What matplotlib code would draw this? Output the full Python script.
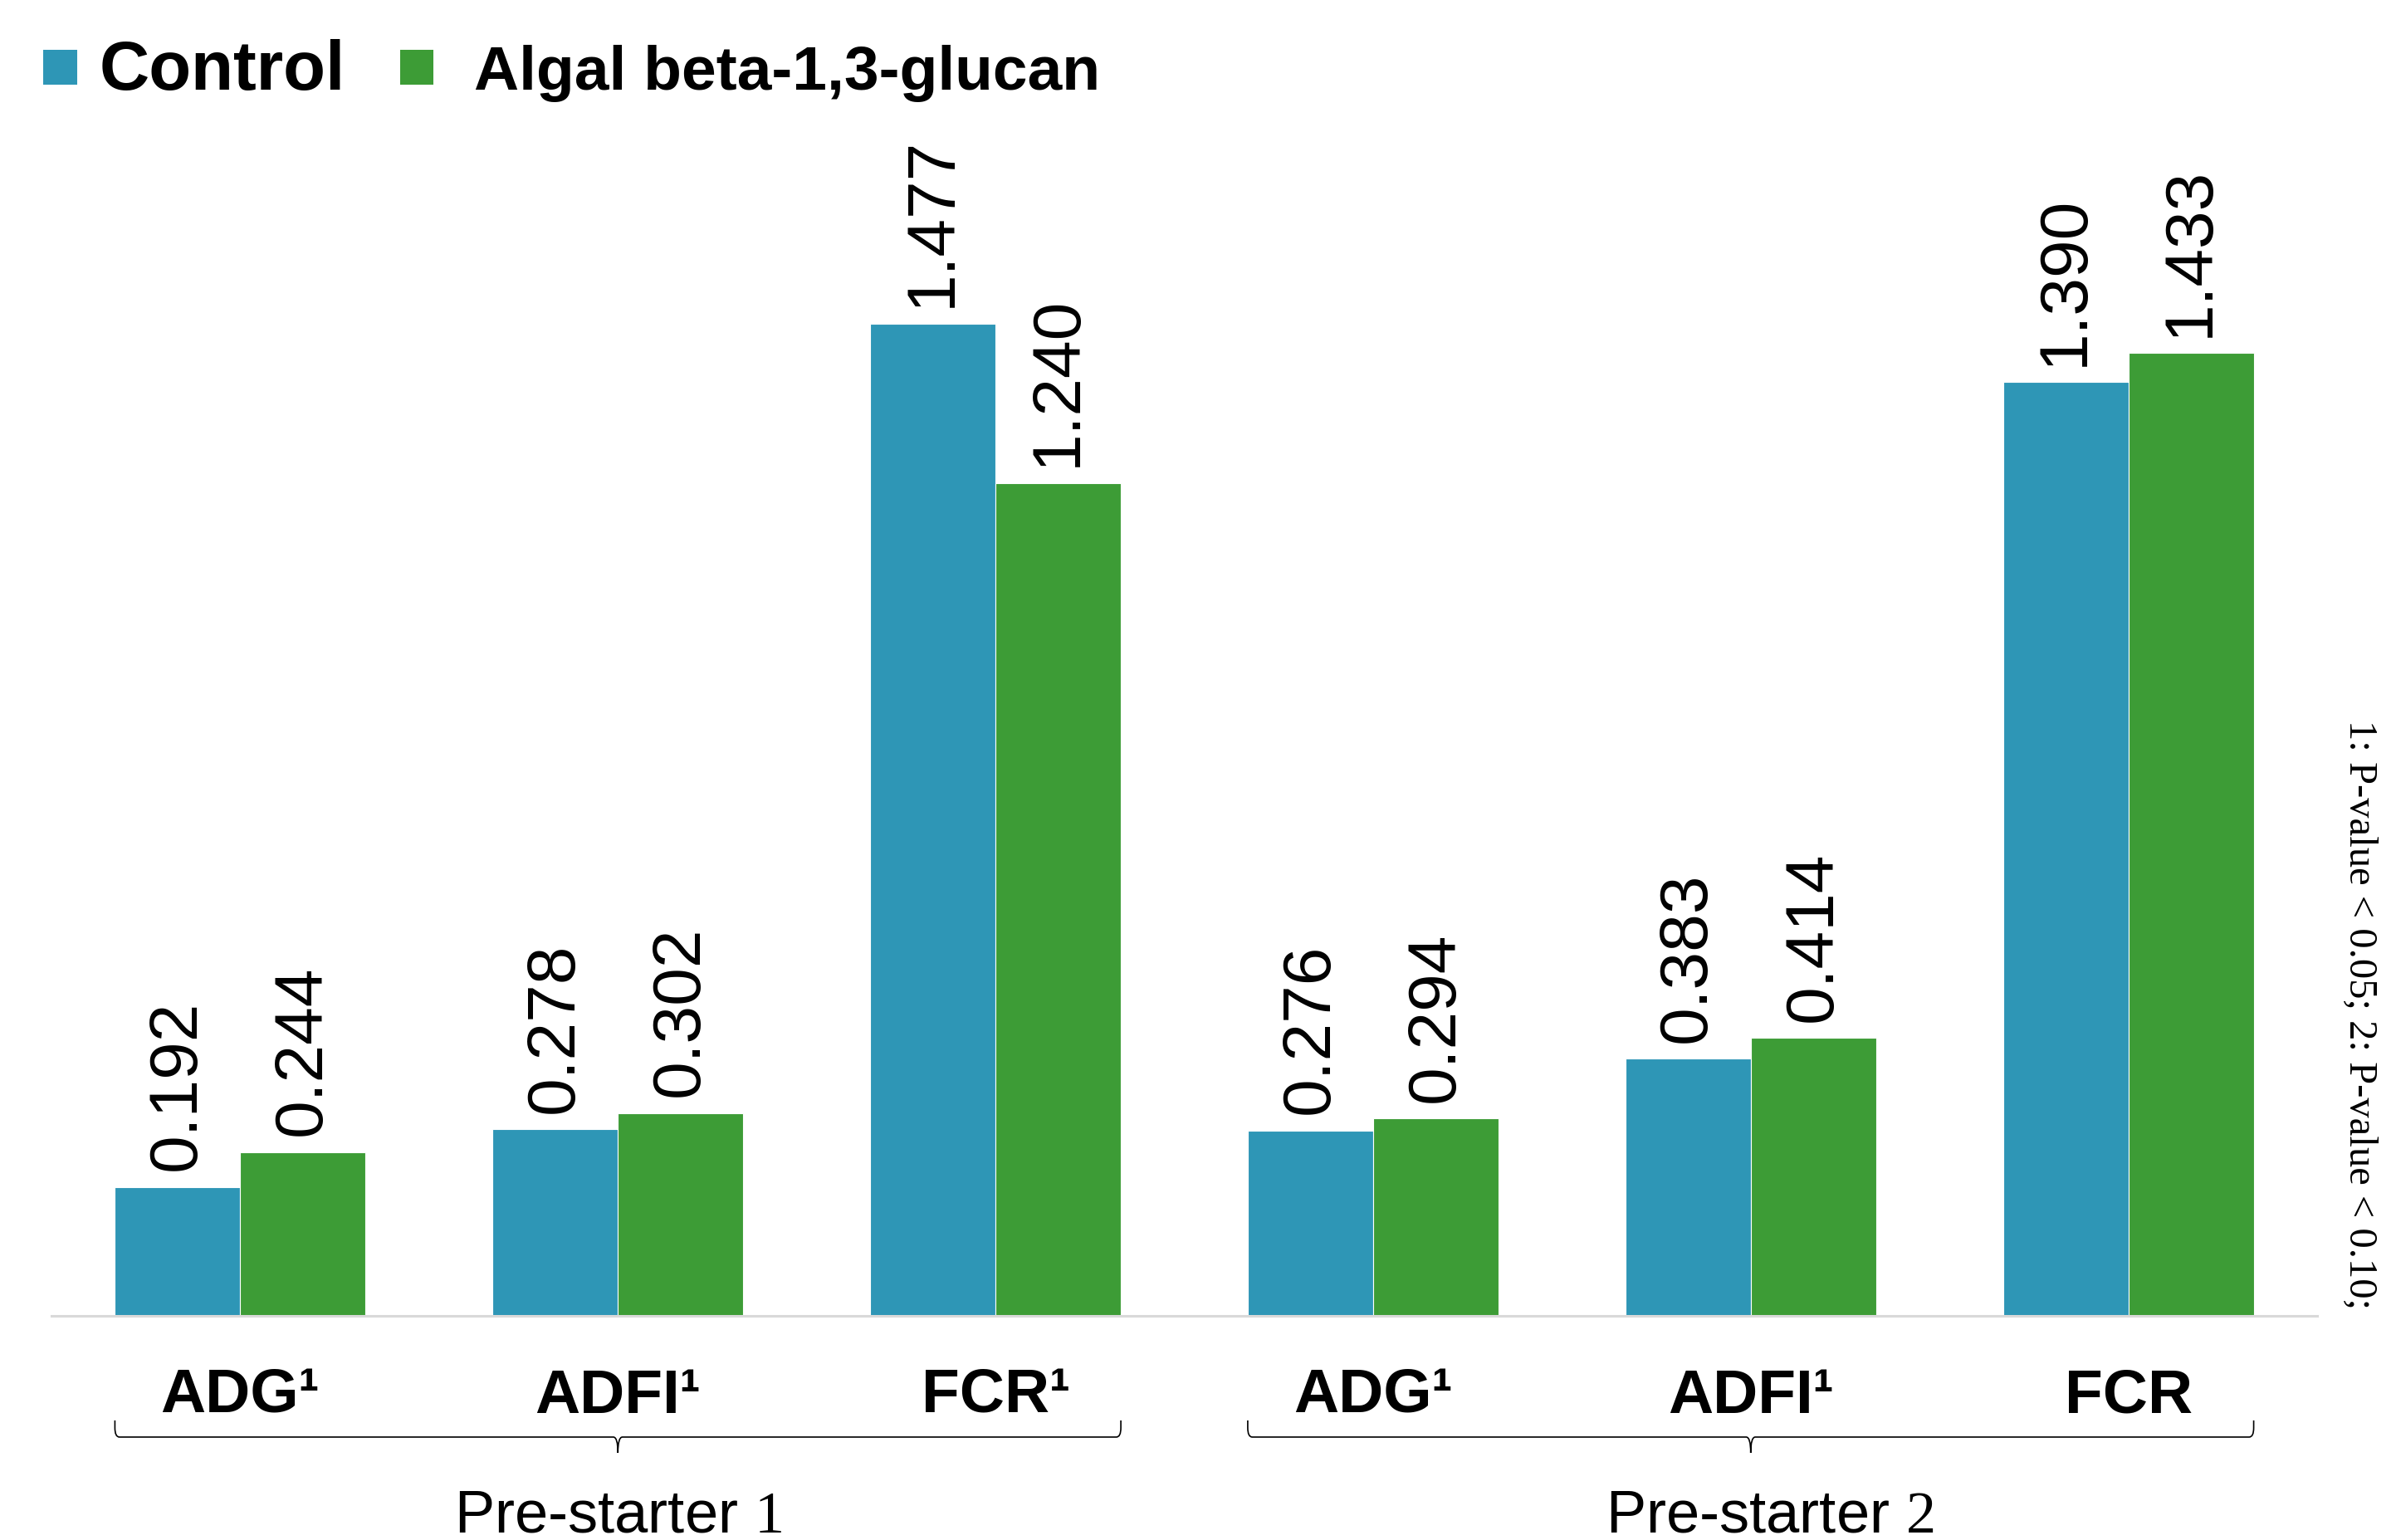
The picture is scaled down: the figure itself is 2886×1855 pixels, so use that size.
import matplotlib
matplotlib.use("Agg")
import matplotlib.pyplot as plt
import numpy as np
from matplotlib.patches import Rectangle, PathPatch
from matplotlib.path import Path
from matplotlib.transforms import blended_transform_factory

# ---- data -------------------------------------------------------------
categories = ["ADG¹", "ADFI¹", "FCR¹", "ADG¹", "ADFI¹", "FCR"]
phases = ["Pre-starter $\\mathrm{1}$", "Pre-starter $\\mathrm{2}$"]
phase_members = [[0, 1, 2], [3, 4, 5]]
control = [0.192, 0.278, 1.477, 0.276, 0.383, 1.390]
glucan = [0.244, 0.302, 1.240, 0.294, 0.414, 1.433]
series_names = ["Control", "Algal beta-1,3-glucan"]
footnote = "1: P-value < 0.05; 2: P-value < 0.10;"

# ---- style ------------------------------------------------------------
BLUE = "#2E96B6"
GREEN = "#3D9C36"
SANS = "Liberation Sans"
SERIF = "Liberation Serif"
plt.rcParams["font.family"] = [SANS, "DejaVu Sans"]
plt.rcParams["mathtext.fontset"] = "custom"
plt.rcParams["mathtext.rm"] = SERIF

W, H, DPI = 2886, 1855, 100
fig = plt.figure(figsize=(W / DPI, H / DPI), dpi=DPI)


def fx(px):
    return px / W


def fy(py):
    return 1 - py / H


ax = fig.add_axes([fx(62), fy(1585), fx(2791) - fx(62), fy(169) - fy(1585)])

x = np.arange(len(categories))
bw = 0.332
bars_c = ax.bar(x - bw / 2, control, bw, color=BLUE, edgecolor="white", linewidth=0.8)
bars_g = ax.bar(x + bw / 2, glucan, bw, color=GREEN, edgecolor="white", linewidth=0.8)

for bars, vals in ((bars_c, control), (bars_g, glucan)):
    for b, v in zip(bars, vals):
        ax.annotate(f"{v:.3f}", (b.get_x() + b.get_width() / 2, v),
                    xytext=(0, 14), textcoords="offset points",
                    rotation=90, ha="center", va="bottom",
                    fontsize=59, family=SANS)

ax.set_xlim(-0.5, len(categories) - 0.5)
ax.set_ylim(0, 1.75)
for s in ("top", "left", "right"):
    ax.spines[s].set_visible(False)
ax.spines["bottom"].set_color("#D9D9D9")
ax.spines["bottom"].set_linewidth(2.2)
ax.set_xticks([])
ax.set_yticks([])

# category labels below the axis
tr = blended_transform_factory(ax.transData, fig.transFigure)
for xi, lab in zip(x, categories):
    ax.text(xi, fy(1702), lab, transform=tr, ha="center", va="baseline",
            fontsize=54, fontweight="bold", clip_on=False)

# braces grouping the phases
def brace(x0, x1, ytop, ymid, ybot, rx=0.012, ry=0.006):
    xm = (x0 + x1) / 2
    verts = [
        (x0, ytop), (x0, ymid + ry), (x0, ymid), (x0 + rx, ymid),
        (xm - rx, ymid), (xm, ymid), (xm, ybot),
        (xm, ymid), (xm + rx, ymid),
        (x1 - rx, ymid), (x1, ymid), (x1, ymid + ry), (x1, ytop),
    ]
    codes = [
        Path.MOVETO, Path.LINETO, Path.CURVE3, Path.CURVE3,
        Path.LINETO, Path.CURVE3, Path.CURVE3,
        Path.CURVE3, Path.CURVE3,
        Path.LINETO, Path.CURVE3, Path.CURVE3, Path.LINETO,
    ]
    return Path(verts, codes)


label_nudge = [0.0, 0.05]
for name, members, nudge in zip(phases, phase_members, label_nudge):
    x0 = members[0] - bw
    x1 = members[-1] + bw
    p = brace(x0, x1, fy(1711), fy(1731), fy(1750))
    ax.add_patch(PathPatch(p, transform=tr, fill=False, edgecolor="black",
                           linewidth=1.2, clip_on=False))
    ax.text((x0 + x1) / 2 + nudge, fy(1845), name, transform=tr,
            ha="center", va="baseline", fontsize=52, clip_on=False)

# legend
legend_items = [
    (series_names[0], BLUE, 52, 93, 120, 60),
    (series_names[1], GREEN, 482, 522, 571, 54),
]
for name, col, sx0, sx1, tx, fs in legend_items:
    fig.add_artist(Rectangle((fx(sx0), fy(102)), fx(sx1) - fx(sx0),
                             fy(60) - fy(102), transform=fig.transFigure,
                             facecolor=col, edgecolor="none"))
    fig.text(fx(tx), fy(108), name, ha="left", va="baseline",
             fontsize=fs, fontweight="bold")

# significance note
fig.text(fx(2842), fy(1222), footnote, rotation=270, ha="center", va="center",
         family=SERIF, fontsize=35)

fig.savefig("out.png", dpi=DPI, facecolor="white")
